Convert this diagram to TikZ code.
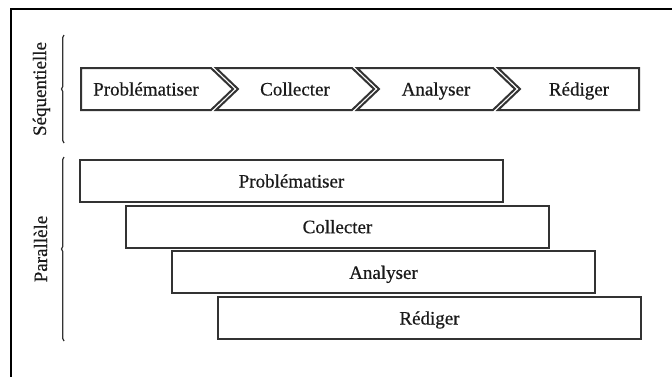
\documentclass[tikz,border=0pt]{standalone}
\usepackage{fontspec}
\setmainfont{Liberation Serif}[FakeBold=0.5]
\usetikzlibrary{decorations.pathreplacing}

\definecolor{ink}{HTML}{1A1A1A}
\definecolor{edge}{HTML}{333333}

\tikzset{
  stage/.style={draw=edge, line width=2pt, fill=white},
  bar/.style={stage, rectangle, inner sep=0pt, minimum width=423pt, minimum height=42pt,
              text height=16.5pt, text depth=3.5pt, text=ink},
  steptext/.style={anchor=base, inner sep=0pt, text=ink},
  sidelabel/.style={rotate=90, anchor=base, inner sep=0pt, text=ink},
  grouping/.style={draw=edge, line width=1.3pt,
                   decorate, decoration={brace, amplitude=2.5pt, aspect=0.5}},
}

\begin{document}
\begin{tikzpicture}[x=1pt, y=-1pt, font=\fontsize{19}{22}\selectfont]
  \useasboundingbox (0,0) rectangle (672,376);

  % outer frame, running past the right and bottom edges
  \begin{scope}
    \clip (0,0) rectangle (672,376);
    \draw[black, line width=2pt] (11,9) rectangle (700,400);
  \end{scope}

  % sequential chain of chevrons
  \draw[stage] (81,68) -- (211,68) -- (233,89) -- (211,110) -- (81,110) -- cycle;
  \draw[stage] (216,68) -- (352,68) -- (374,89) -- (352,110) -- (216,110) -- (238,89) -- cycle;
  \draw[stage] (357,68) -- (493,68) -- (515,89) -- (493,110) -- (357,110) -- (379,89) -- cycle;
  \draw[stage] (498,68) -- (639,68) -- (639,110) -- (498,110) -- (520,89) -- cycle;

  \node[steptext] (s1) at (146,95.5) {Problématiser};
  \node[steptext] (s2) at (295,95.5) {Collecter};
  \node[steptext] (s3) at (436,95.5) {Analyser};
  \node[steptext] (s4) at (579,95.5) {Rédiger};

  % overlapping parallel bars
  \node[bar] (p1) at (291.5,181)   {Problématiser};
  \node[bar] (p2) at (337.5,226.7) {Collecter};
  \node[bar] (p3) at (383.5,272.4) {Analyser};
  \node[bar] (p4) at (429.5,318)   {Rédiger};

  % group braces and their labels
  \coordinate (seqlow)  at (64,143);
  \coordinate (seqhigh) at (64,35);
  \coordinate (parlow)  at (64,341);
  \coordinate (parhigh) at (64,157);
  \draw[grouping] (seqlow) -- (seqhigh);
  \draw[grouping] (parlow) -- (parhigh);

  \node[sidelabel] (seq) at (46,89)  {Séquentielle};
  \node[sidelabel] (par) at (47,249) {Parallèle};
\end{tikzpicture}
\end{document}
